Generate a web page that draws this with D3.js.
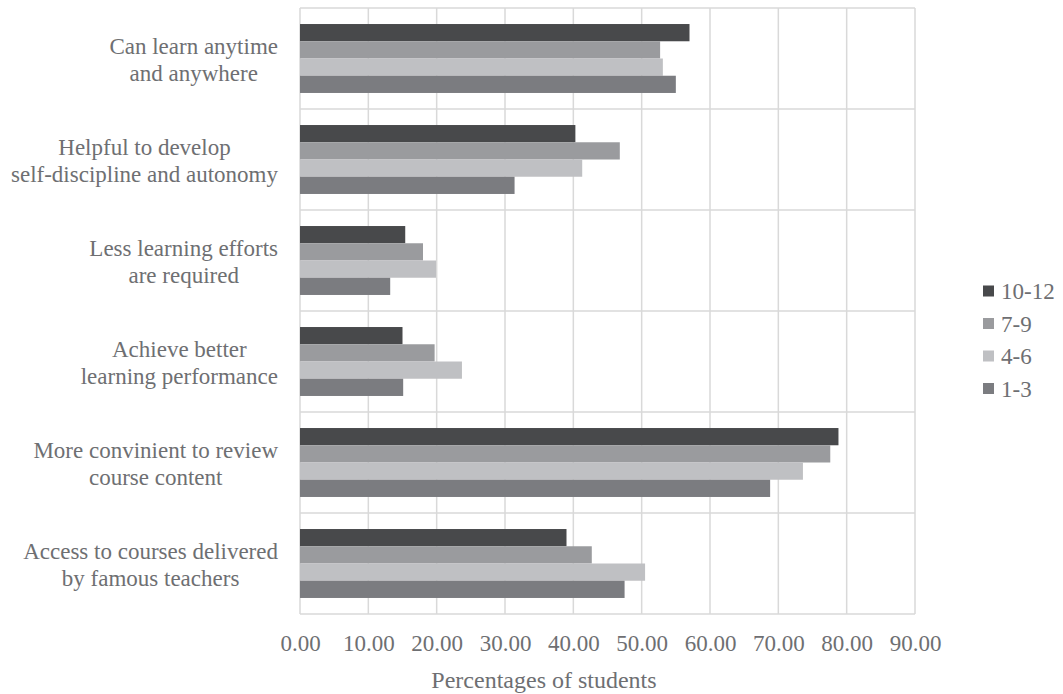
<!DOCTYPE html>
<html><head><meta charset="utf-8">
<script src="https://cdn.jsdelivr.net/npm/d3@7"></script>
<style>body{margin:0;background:#fff}svg{display:block}
text{font-family:'Liberation Serif','Times New Roman',Times,serif}</style>
</head><body><svg id="c" width="1063" height="694"></svg>
<script>
const categories = [
  ["Can learn anytime", "and anywhere"],
  ["Helpful to develop", "self-discipline and autonomy"],
  ["Less learning efforts", "are required"],
  ["Achieve better", "learning performance"],
  ["More convinient to review", "course content"],
  ["Access to courses delivered", "by famous teachers"]
];
const seriesNames = ["10-12", "7-9", "4-6", "1-3"];
const s10_12 = [57.0, 40.3, 15.4, 15.0, 78.8, 39.0];
const s7_9   = [52.7, 46.8, 18.0, 19.7, 77.6, 42.7];
const s4_6   = [53.1, 41.3, 19.9, 23.7, 73.6, 50.5];
const s1_3   = [55.0, 31.4, 13.2, 15.1, 68.8, 47.5];
const seriesValues = [s10_12, s7_9, s4_6, s1_3];
const colors = ["#48494b", "#9a9b9e", "#bfc0c3", "#7b7c80"];
const xTicks = [0,10,20,30,40,50,60,70,80,90];

const svg = d3.select("#c");
const L = 300, R = 915, T = 8, B = 614;
const textColor = "#6e6f72";
const fontFam = "'Liberation Serif','Times New Roman',Times,serif";

const x = d3.scaleLinear().domain([0, 90]).range([L, R]);
const y = d3.scaleBand().domain(d3.range(categories.length)).range([T, B]).paddingInner(0).paddingOuter(0);
const inner = d3.scaleBand().domain(d3.range(seriesNames.length)).range([0, y.bandwidth()]).paddingOuter(0.93).paddingInner(0);

const g = svg.append("g");
g.selectAll("line.v").data(xTicks).join("line")
  .attr("x1", d => x(d)).attr("x2", d => x(d)).attr("y1", T).attr("y2", B)
  .attr("stroke", "#d9d9d9").attr("stroke-width", 1.5);
g.selectAll("line.h").data(d3.range(categories.length + 1)).join("line")
  .attr("x1", L).attr("x2", R)
  .attr("y1", d => d < categories.length ? y(d) : B)
  .attr("y2", d => d < categories.length ? y(d) : B)
  .attr("stroke", "#d9d9d9").attr("stroke-width", 1.5);

seriesValues.forEach((vals, si) => {
  svg.append("g").selectAll("rect").data(vals).join("rect")
    .attr("x", x(0))
    .attr("y", (d, i) => y(i) + inner(si))
    .attr("width", d => x(d) - x(0))
    .attr("height", inner.bandwidth())
    .attr("fill", colors[si]);
});

const xAxis = d3.axisBottom(x).tickValues(xTicks).tickFormat(d3.format(".2f")).tickSize(0).tickPadding(0);
const ax = svg.append("g").attr("transform", `translate(0,${B})`).call(xAxis);
ax.select(".domain").remove();
ax.selectAll("text").attr("fill", textColor).attr("dy", null).attr("y", 37)
  .attr("font-family", null)
  .style("font-family", fontFam).style("font-size", "23px");

svg.append("text").attr("x", 544).attr("y", 688).attr("text-anchor", "middle")
  .attr("fill", textColor).style("font-family", fontFam).style("font-size", "24px")
  .text("Percentages of students");

categories.forEach((lines, i) => {
  const t = svg.append("text").attr("fill", textColor).style("font-family", fontFam).style("font-size", "23px")
    .attr("text-anchor", "middle");
  const cy = y(i) + y.bandwidth() / 2;
  lines.forEach((ln, j) => {
    t.append("tspan").attr("x", 0).attr("y", cy - 5 + j * 27).text(ln);
  });
  let maxW = 0;
  t.selectAll("tspan").each(function(){ maxW = Math.max(maxW, this.getComputedTextLength()); });
  t.selectAll("tspan").attr("x", 278 - maxW / 2);
});

const lg = svg.append("g");
seriesNames.forEach((n, i) => {
  const ly = 291 + i * 32.5;
  lg.append("rect").attr("x", 983).attr("y", ly - 5.5).attr("width", 11).attr("height", 11).attr("fill", colors[i]);
  lg.append("text").attr("x", 1001).attr("y", ly + 8).attr("fill", textColor)
    .style("font-family", fontFam).style("font-size", "23px").text(n);
});
</script></body></html>
